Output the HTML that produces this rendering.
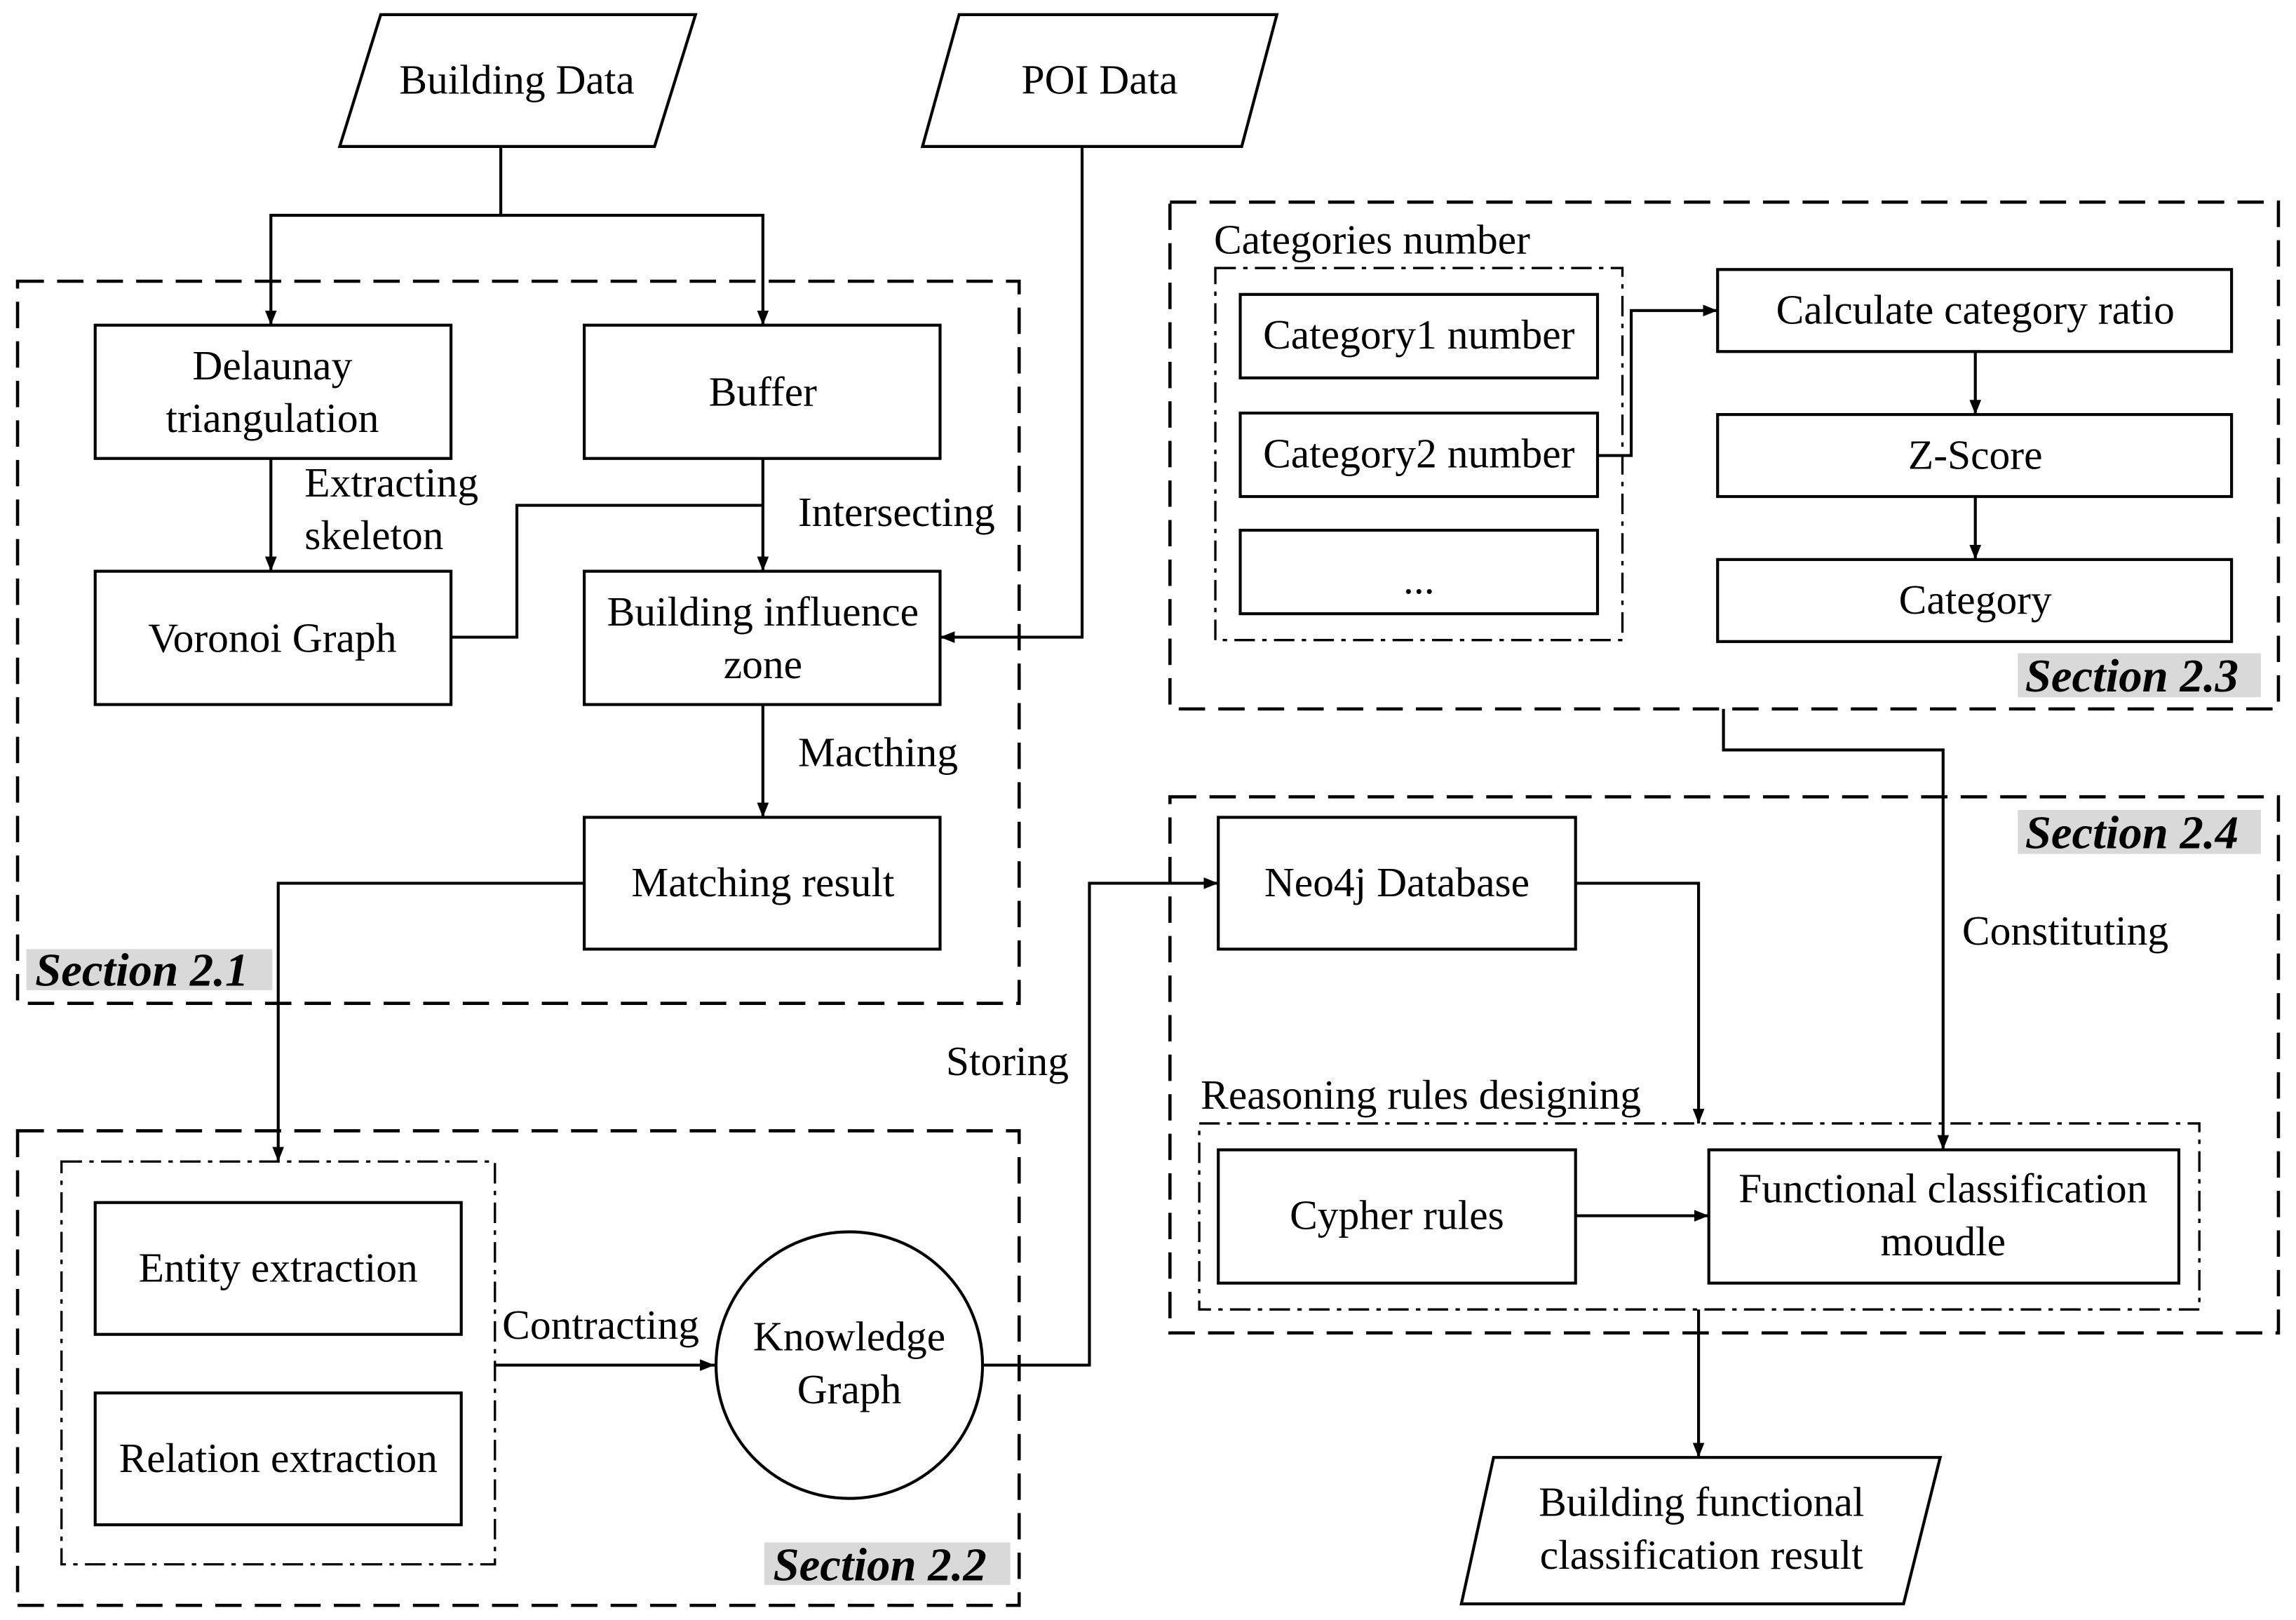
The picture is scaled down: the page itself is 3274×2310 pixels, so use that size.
<!DOCTYPE html>
<html><head><meta charset="utf-8"><style>
html,body{margin:0;padding:0;background:#fff;}
svg{display:block;}
text{font-family:"Liberation Serif","Times New Roman",serif;font-size:28.5px;fill:#000;}
.sec{font-weight:bold;font-style:italic;font-size:32px;}
</style></head><body>
<svg width="3274" height="2310" viewBox="0 0 1568 1106" preserveAspectRatio="none" xmlns="http://www.w3.org/2000/svg">
<defs>
<marker id="a" viewBox="0 0 10 10" refX="10" refY="5" markerWidth="10" markerHeight="10" markerUnits="userSpaceOnUse" orient="auto">
<path d="M0,1 L10,5 L0,9 z" fill="#000"/></marker>
</defs>
<g fill="none" stroke="#000" stroke-width="2">
<g stroke-dasharray="18,9" stroke-width="2.2">
<rect x="12" y="192" width="684" height="493"/>
<rect x="12" y="772" width="684" height="324"/>
<rect x="799" y="138" width="757" height="346"/>
<rect x="799" y="544" width="757" height="366"/>
</g>
<g stroke-dasharray="14,5,3,5" stroke-width="1.6">
<rect x="42" y="793" width="296" height="275"/>
<rect x="830" y="183" width="278" height="254"/>
<rect x="819" y="767" width="683" height="127"/>
</g>
<polygon points="260,10 475,10 447,100 232,100"/>
<polygon points="655,10 872,10 848,100 630,100"/>
<polygon points="1020,995 1325,995 1300,1095 998,1095"/>
<rect x="65" y="222" width="243" height="91"/>
<rect x="399" y="222" width="243" height="91"/>
<rect x="65" y="390" width="243" height="91"/>
<rect x="399" y="390" width="243" height="91"/>
<rect x="399" y="558" width="243" height="90"/>
<rect x="65" y="821" width="250" height="90"/>
<rect x="65" y="951" width="250" height="90"/>
<circle cx="580" cy="932" r="91"/>
<rect x="847" y="201" width="244" height="57"/>
<rect x="847" y="282" width="244" height="57"/>
<rect x="847" y="362" width="244" height="57"/>
<rect x="1173" y="184" width="351" height="56"/>
<rect x="1173" y="283" width="351" height="56"/>
<rect x="1173" y="382" width="351" height="56"/>
<rect x="832" y="558" width="244" height="90"/>
<rect x="832" y="785" width="244" height="91"/>
<rect x="1167" y="785" width="321" height="91"/>
<polyline points="342,100 342,147 185,147 185,222" marker-end="url(#a)"/>
<polyline points="342,147 521,147 521,222" marker-end="url(#a)"/>
<line x1="185" y1="313" x2="185" y2="390" marker-end="url(#a)"/>
<line x1="521" y1="313" x2="521" y2="390" marker-end="url(#a)"/>
<polyline points="308,435 353,435 353,345 521,345"/>
<polyline points="739,100 739,435 642,435" marker-end="url(#a)"/>
<line x1="521" y1="481" x2="521" y2="558" marker-end="url(#a)"/>
<polyline points="399,603 190,603 190,793" marker-end="url(#a)"/>
<line x1="338" y1="932" x2="488" y2="932" marker-end="url(#a)"/>
<polyline points="671,932 744,932 744,603 832,603" marker-end="url(#a)"/>
<polyline points="1091,311 1114,311 1114,212 1173,212" marker-end="url(#a)"/>
<line x1="1349" y1="240" x2="1349" y2="283" marker-end="url(#a)"/>
<line x1="1349" y1="339" x2="1349" y2="382" marker-end="url(#a)"/>
<polyline points="1177,484 1177,512 1327,512 1327,785" marker-end="url(#a)"/>
<polyline points="1076,603 1160,603 1160,767" marker-end="url(#a)"/>
<line x1="1076" y1="830" x2="1167" y2="830" marker-end="url(#a)"/>
<line x1="1160" y1="894" x2="1160" y2="995" marker-end="url(#a)"/>
</g>
<g fill="#d9d9d9">
<rect x="18" y="648" width="168" height="28"/>
<rect x="522" y="1053" width="168" height="29"/>
<rect x="1378" y="446" width="166" height="30"/>
<rect x="1378" y="553" width="166" height="30"/>
</g>
<text class="sec" x="24" y="673">Section 2.1</text>
<text class="sec" x="528" y="1079">Section 2.2</text>
<text class="sec" x="1383" y="472">Section 2.3</text>
<text class="sec" x="1383" y="579">Section 2.4</text>
<g text-anchor="middle">
<text x="353" y="64">Building Data</text>
<text x="751" y="64">POI Data</text>
<text x="186" y="259">Delaunay</text>
<text x="186" y="295">triangulation</text>
<text x="521" y="277">Buffer</text>
<text x="186" y="445">Voronoi Graph</text>
<text x="521" y="427">Building influence</text>
<text x="521" y="463">zone</text>
<text x="521" y="612">Matching result</text>
<text x="190" y="875">Entity extraction</text>
<text x="190" y="1005">Relation extraction</text>
<text x="580" y="922">Knowledge</text>
<text x="580" y="958">Graph</text>
<text x="969" y="238">Category1 number</text>
<text x="969" y="319">Category2 number</text>
<text x="969" y="405">...</text>
<text x="1349" y="221">Calculate category ratio</text>
<text x="1349" y="320">Z-Score</text>
<text x="1349" y="419">Category</text>
<text x="954" y="612">Neo4j Database</text>
<text x="954" y="839">Cypher rules</text>
<text x="1327" y="821">Functional classification</text>
<text x="1327" y="857">moudle</text>
<text x="1162" y="1035">Building functional</text>
<text x="1162" y="1071">classification result</text>
</g>
<text x="208" y="339">Extracting</text>
<text x="208" y="375">skeleton</text>
<text x="545" y="359">Intersecting</text>
<text x="545" y="523">Macthing</text>
<text x="343" y="914">Contracting</text>
<text x="646" y="734">Storing</text>
<text x="829" y="173">Categories number</text>
<text x="1340" y="645">Constituting</text>
<text x="820" y="757">Reasoning rules designing</text>
</svg>
</body></html>
